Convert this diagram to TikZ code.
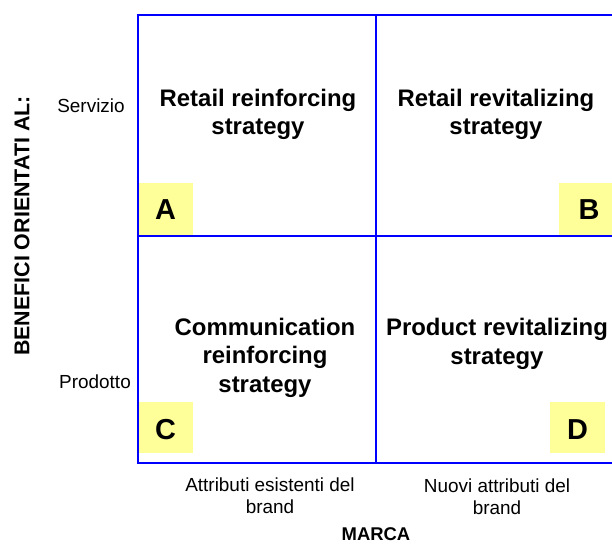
\documentclass[tikz,border=0pt]{standalone}
\usepackage{fontspec}
\setmainfont{Liberation Sans}
\begin{document}
\begin{tikzpicture}[x=1bp,y=-1bp,
  gridline/.style={draw=blue, line width=2bp},
  tagletter/.style={font=\fontsize{29}{29}\selectfont\bfseries, inner sep=0pt},
  quadtext/.style={font=\fontsize{24}{28.5}\selectfont\bfseries, align=center, anchor=base, inner sep=0pt},
  axistext/.style={font=\fontsize{19}{22}\selectfont, align=center, anchor=base, inner sep=0pt},
  axistitle/.style={font=\fontsize{18.5}{20}\selectfont\bfseries, anchor=base, inner sep=0pt}
]
\definecolor{tagyellow}{RGB}{255,255,153}
\useasboundingbox (0,0) rectangle (612,544);

% yellow corner tags
\fill[tagyellow] (137,183) rectangle (193,235);
\fill[tagyellow] (559,183) rectangle (615,235);
\fill[tagyellow] (137,402) rectangle (193,453);
\fill[tagyellow] (550,402) rectangle (605,453);

% quadrant grid, open on the right
\begin{scope}
\clip (0,0) rectangle (612,544);
\draw[gridline] (137.5,463.5) -- (137.5,15.5) -- (620,15.5);
\draw[gridline] (137.5,236) -- (620,236);
\draw[gridline] (137.5,462.5) -- (620,462.5);
\draw[gridline] (376,15.5) -- (376,463.5);
\end{scope}

% corner letters
\node[tagletter] (tagA) at (165.5,209.5) {A};
\node[tagletter] (tagB) at (589,209.5) {B};
\node[tagletter] (tagC) at (165.5,429.5) {C};
\node[tagletter] (tagD) at (577.5,429.5) {D};

% strategies (base anchor sits on the last line)
\node[quadtext] (qA) at (258,135) {Retail reinforcing\\strategy};
\node[quadtext] (qB) at (496,135) {Retail revitalizing\\strategy};
\node[quadtext] (qC) at (265,392) {Communication\\reinforcing\\strategy};
\node[quadtext] (qD) at (497,364) {Product revitalizing\\strategy};

% vertical axis
\node[axistext] (servizio) at (91,113) {Servizio};
\node[axistext] (prodotto) at (95,388) {Prodotto};
\node[font=\fontsize{21.5}{22}\selectfont\bfseries, rotate=90, inner sep=0pt] (benefici) at (22,226) {BENEFICI ORIENTATI AL:};

% horizontal axis
\node[axistext] (esistenti) at (270,513) {Attributi esistenti del\\brand};
\node[axistext] (nuovi) at (497,514) {Nuovi attributi del\\brand};
\node[axistitle] (marca) at (376,540) {MARCA};
\end{tikzpicture}
\end{document}
